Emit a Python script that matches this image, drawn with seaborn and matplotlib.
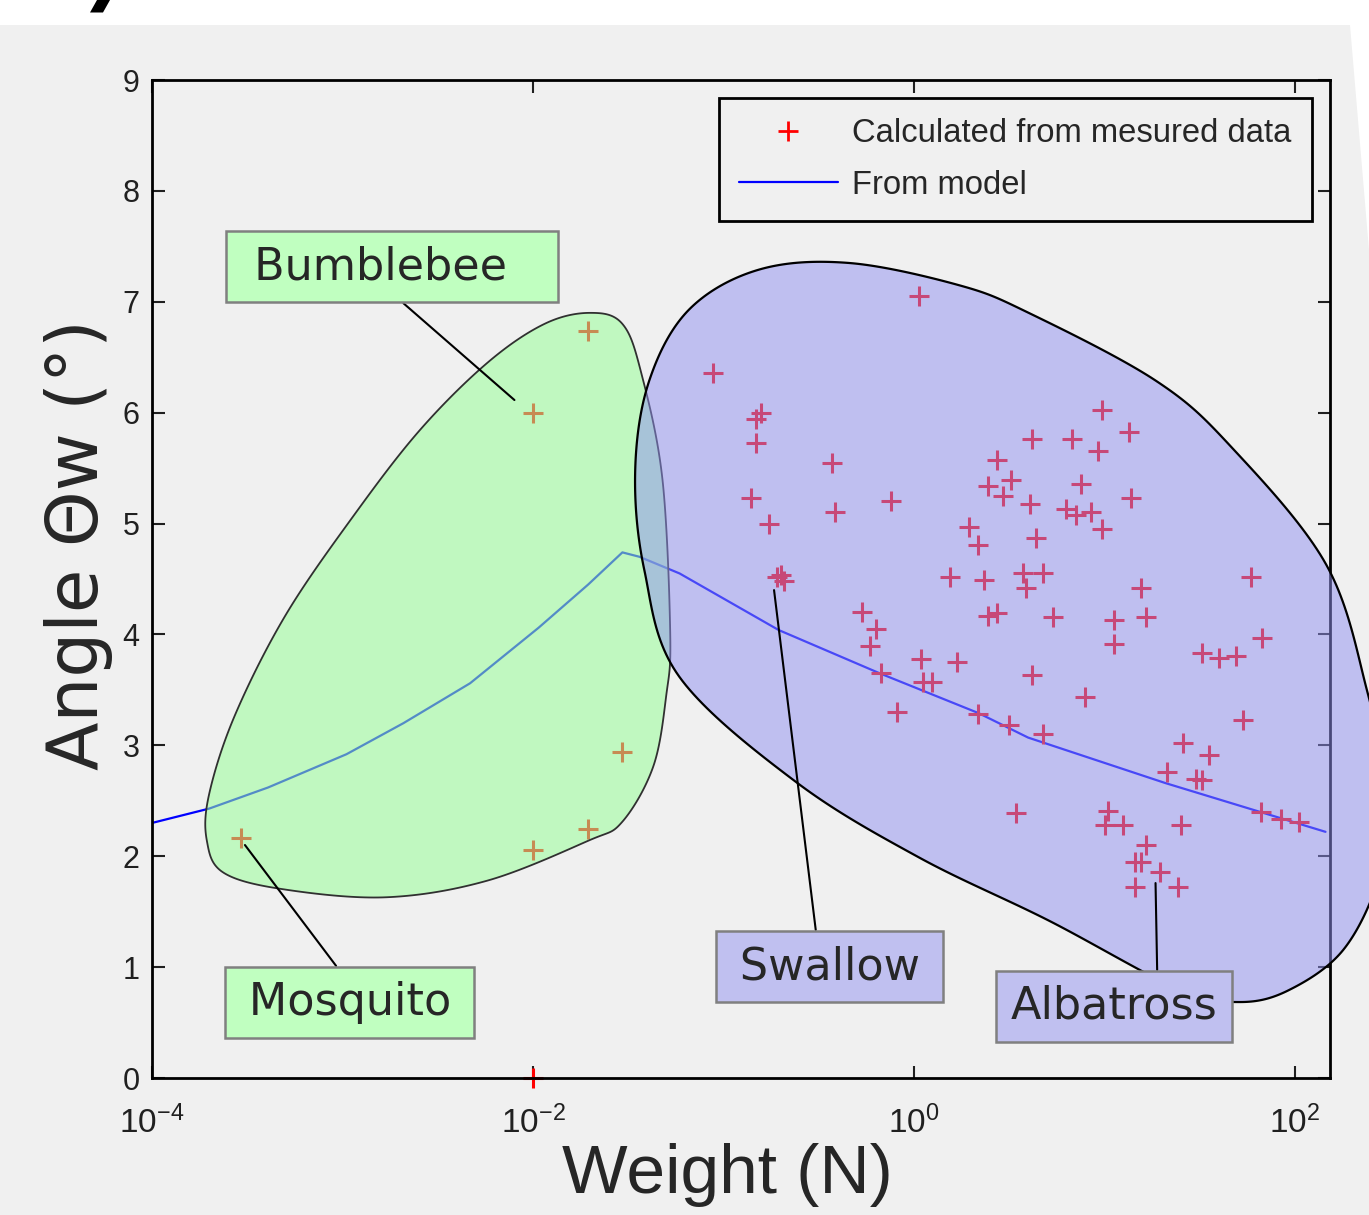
import numpy as np
import pandas as pd
import matplotlib
matplotlib.use("Agg")
import matplotlib.pyplot as plt
import seaborn as sns
from matplotlib.lines import Line2D
from matplotlib.patches import Rectangle, Polygon
from matplotlib.ticker import NullLocator

# measured points, insects
insect_weight = [2.95e-4, 1.0e-2, 1.95e-2, 2.95e-2, 1.0e-2, 1.95e-2]
insect_angle = [2.16, 6.00, 6.74, 2.94, 2.06, 2.25]

# measured points, birds
bird_weight = [1.06, 0.0883, 0.158, 0.148, 0.148, 0.372, 0.140, 0.386, 0.759, 0.174,
               2.72, 3.24, 2.45, 2.93, 1.95, 2.16, 9.77, 13.5, 4.17, 6.76,
               9.23, 4.07, 7.50, 13.8, 6.31, 7.08, 8.51, 9.77, 4.37, 3.72,
               4.79, 3.89, 15.5, 58.9, 5.37, 11.2, 16.6, 11.2, 67.6, 32.7,
               39.8, 49.0, 4.17, 0.191, 0.200, 0.209, 1.55, 2.33, 0.537, 0.631,
               0.589, 2.45, 2.72, 0.676, 1.09, 1.68, 1.12, 1.24, 0.813, 2.16,
               3.16, 3.43, 7.94, 53.7, 4.79, 26.0, 35.5, 21.4, 30.2, 32.4,
               10.5, 10.1, 12.6, 25.4, 16.6, 14.5, 15.5, 19.5, 14.5, 24.5,
               66.1, 85.1, 105.0]
bird_angle = [7.05, 6.36, 6.00, 5.94, 5.73, 5.55, 5.23, 5.10, 5.20, 5.00,
              5.57, 5.39, 5.34, 5.25, 4.97, 4.81, 6.02, 5.83, 5.76, 5.76,
              5.65, 5.18, 5.36, 5.23, 5.13, 5.08, 5.10, 4.95, 4.87, 4.55,
              4.55, 4.42, 4.42, 4.52, 4.16, 4.13, 4.16, 3.91, 3.97, 3.83,
              3.79, 3.81, 3.63, 4.52, 4.54, 4.48, 4.52, 4.49, 4.20, 4.05,
              3.90, 4.17, 4.19, 3.65, 3.78, 3.75, 3.57, 3.57, 3.30, 3.28,
              3.18, 2.39, 3.44, 3.23, 3.10, 3.02, 2.91, 2.76, 2.70, 2.69,
              2.41, 2.28, 2.28, 2.28, 2.10, 1.95, 1.95, 1.86, 1.72, 1.72,
              2.40, 2.34, 2.31]

# one point sitting on the x axis
axis_weight = [1.0e-2]
axis_angle = [0.0]

# model curve
model_weight = [1.0e-4, 2.0e-4, 4.07e-4, 1.05e-3, 2.09e-3, 4.68e-3, 1.07e-2, 1.95e-2,
                2.95e-2, 3.63e-2, 5.89e-2, 0.195, 0.661, 2.19, 3.98, 20.9, 145.0]
model_angle = [2.30, 2.43, 2.62, 2.92, 3.20, 3.56, 4.06, 4.45,
               4.74, 4.70, 4.55, 4.04, 3.65, 3.29, 3.07, 2.66, 2.22]

# outlines of the two groups, as (log10 weight, angle)
insect_zone_lx = [-1.70, -1.53, -1.43, -1.32, -1.279, -1.30, -1.368, -1.531, -1.709, -2.239,
                  -2.768, -3.303, -3.623, -3.712, -3.70, -3.565, -3.30, -2.946, -2.595, -2.239, -1.94]
insect_zone_y = [6.90, 6.80, 6.35, 5.40, 4.00, 3.45, 2.81, 2.31, 2.14, 1.78,
                 1.63, 1.70, 1.85, 2.14, 2.56, 3.27, 4.17, 5.06, 5.84, 6.45, 6.80]
bird_zone_lx = [-1.463, -1.389, -1.18, -0.813, -0.341, 0.236, 0.603, 1.269, 1.667, 2.165,
                2.38, 2.49, 2.44, 2.254, 1.966, 1.704, 1.39, 0.708, 0.026,
                -0.619, -1.232, -1.415]
bird_zone_y = [5.48, 6.29, 6.93, 7.29, 7.35, 7.15, 6.90, 6.29, 5.69, 4.63,
               3.49, 2.51, 1.80, 1.154, 0.79, 0.685, 0.80, 1.42, 1.99,
               2.67, 3.62, 4.58]

W, H = 1369, 1215
BG = "#f0f0f0"
GREEN_BOX = "#c0ffc0"
BLUE_BOX = "#c0c0f0"


def smooth_closed(xs, ys, n=24):
    p = np.column_stack([xs, ys])
    m = len(p)
    t = np.linspace(0, 1, n, endpoint=False)[:, None]
    segs = []
    for i in range(m):
        p0, p1, p2, p3 = p[i - 1], p[i], p[(i + 1) % m], p[(i + 2) % m]
        segs.append(0.5 * (2 * p1 + (-p0 + p2) * t + (2 * p0 - 5 * p1 + 4 * p2 - p3) * t ** 2
                           + (-p0 + 3 * p1 - 3 * p2 + p3) * t ** 3))
    out = np.vstack(segs)
    return out[:, 0], out[:, 1]


def px(x, y):
    return (x / W, 1 - y / H)


sns.set_style("ticks")
plt.rcParams["font.family"] = ["Liberation Sans", "DejaVu Sans"]
plt.rcParams["axes.unicode_minus"] = False

fig = plt.figure(figsize=(W / 100, H / 100), dpi=100, facecolor=BG)
ax = fig.add_axes([152 / W, 1 - 1078 / H, (1330 - 152) / W, (1078 - 80) / H])
ax.set_facecolor(BG)
ax.set_xscale("log")

points = pd.DataFrame({
    "weight": insect_weight + bird_weight + axis_weight,
    "angle": insect_angle + bird_angle + axis_angle,
})
model = pd.DataFrame({"weight": model_weight, "angle": model_angle})

sns.lineplot(data=model, x="weight", y="angle", color="blue", lw=1.6, sort=False,
             estimator=None, ax=ax, zorder=2)
sns.scatterplot(data=points, x="weight", y="angle", marker="+", color="red", s=200,
                linewidth=2.2, ax=ax, zorder=2, clip_on=False, legend=False)

# group zones drawn over the data, semi transparent
gx, gy = smooth_closed(insect_zone_lx, insect_zone_y)
ax.fill(10 ** gx, gy, facecolor=(153 / 255, 1.0, 153 / 255, 0.55), edgecolor="#303030",
        lw=1.3, zorder=3, clip_on=False)
bx, by = smooth_closed(bird_zone_lx, bird_zone_y)
ax.fill(10 ** bx, by, facecolor=(144 / 255, 144 / 255, 240 / 255, 0.5), edgecolor="black",
        lw=1.6, zorder=3.1, clip_on=False)

ax.set_xlim(1e-4, 10 ** 2.185)
ax.set_ylim(0, 9)
ax.set_xticks([1e-4, 1e-2, 1, 1e2])
ax.xaxis.set_minor_locator(NullLocator())
ax.set_yticks(range(10))
ax.tick_params(direction="in", top=True, right=True, length=9, width=1.5,
               labelsize=22, colors="#202020", pad=9)
ax.tick_params(axis="x", pad=20, labelsize=24)
for sp in ax.spines.values():
    sp.set_linewidth(2)
    sp.set_color("black")

ax.set_xlabel("Weight (N)", fontsize=50)
ax.xaxis.set_label_coords((727 - 152) / (1330 - 152), -(1175 - 1078) / (1078 - 80))
ax.xaxis.label.set_va("center")
ax.set_ylabel("Angle Θw (°)", fontsize=51, family="DejaVu Sans")
ax.yaxis.set_label_coords(-(152 - 79) / (1330 - 152), (1078 - 545) / (1078 - 80))
ax.yaxis.label.set_va("center")

handles = [
    Line2D([], [], marker="+", color="red", ls="none", ms=14, mew=2),
    Line2D([], [], color="blue", lw=1.6),
]
leg = ax.legend(handles, ["Calculated from mesured data", "From model"], loc="upper right",
                fontsize=23.6, frameon=True, fancybox=False, framealpha=1, facecolor=BG,
                edgecolor="black", borderaxespad=0.55, handlelength=3.0, handletextpad=0.45,
                borderpad=0.62, labelspacing=0.62)
leg.get_frame().set_linewidth(2)
leg.set_zorder(6)

labels = [
    (" Bumblebee  \u2009", -2.739, 7.317, -2.097, 6.114, (0.48, 0.0), GREEN_BOX),
    ("\u2009Mosquito\u2009", -2.962, 0.681, -3.512, 2.101, (0.49, 1.0), GREEN_BOX),
    ("\u2009Swallow\u2009", -0.443, 1.005, -0.734, 4.400, (0.44, 1.0), BLUE_BOX),
    ("Albatross", 1.051, 0.645, 1.269, 1.758, (0.71, 1.0), BLUE_BOX),
]
for text, lx, ly, ex, ey, rel, fc in labels:
    ax.annotate(text, xy=(10 ** ex, ey), xytext=(10 ** lx, ly), textcoords="data",
                ha="center", va="center", fontsize=32, family="DejaVu Sans", zorder=7,
                annotation_clip=False,
                bbox=dict(boxstyle="square,pad=0.32", fc=fc, ec="#808080", lw=1.8),
                arrowprops=dict(arrowstyle="-", color="black", lw=1.5, shrinkA=0, shrinkB=0,
                                relpos=rel))

# white strip along the top of the picture, with a cut-off glyph
fig.patches.append(Rectangle((0, 1 - 25 / H), 1, 25 / H, transform=fig.transFigure,
                             fc="white", ec="none", zorder=10))
fig.patches.append(Polygon([px(1350, 25), px(W, 25), px(W, 250)], closed=True,
                           transform=fig.transFigure, fc="white", ec="none", zorder=10))
fig.patches.append(Polygon([px(90, 12.5), px(103, 12.5), px(110, 0), px(97, 0)], closed=True,
                           transform=fig.transFigure, fc="black", ec="none", zorder=11))

fig.savefig("out.png", dpi=100, facecolor=BG)
